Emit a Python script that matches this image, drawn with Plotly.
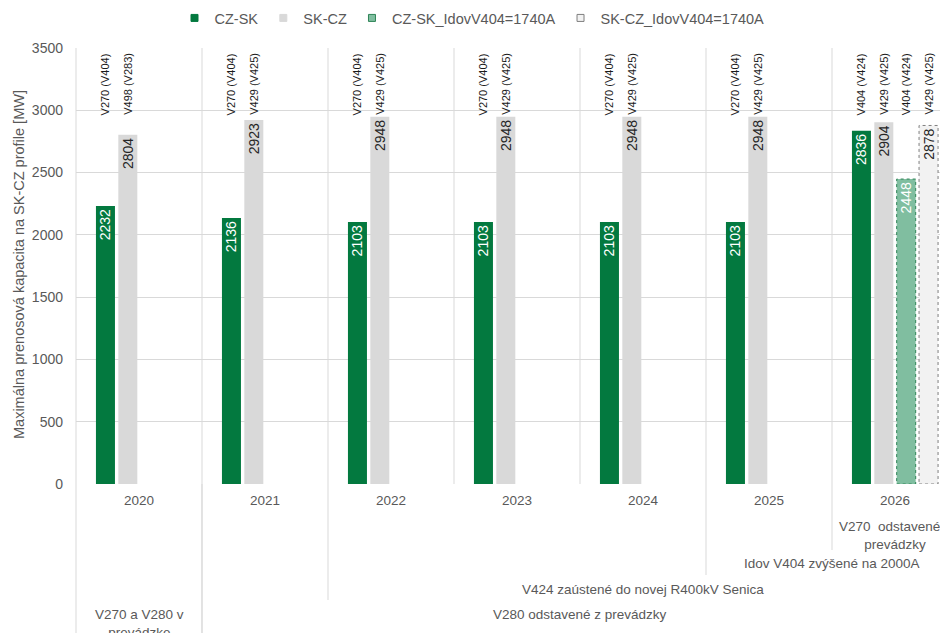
import plotly.graph_objects as go

# ---------------- data ----------------
years = ["2020", "2021", "2022", "2023", "2024", "2025", "2026"]
series_names = ["CZ-SK", "SK-CZ", "CZ-SK_IdovV404=1740A", "SK-CZ_IdovV404=1740A"]
cz_sk = [2232, 2136, 2103, 2103, 2103, 2103, 2836]
sk_cz = [2804, 2923, 2948, 2948, 2948, 2948, 2904]
cz_sk_idov = [None, None, None, None, None, None, 2448]
sk_cz_idov = [None, None, None, None, None, None, 2878]

line_labels_cz_sk = ["V270 (V404)"] * 6 + ["V404 (V424)"]
line_labels_sk_cz = ["V498 (V283)"] + ["V429 (V425)"] * 6
line_labels_cz_sk_idov = [None] * 6 + ["V404 (V424)"]
line_labels_sk_cz_idov = [None] * 6 + ["V429 (V425)"]

# multi-level category labels (text, first year index, last year index, level)
level_texts = ["V270  odstavené z<br>prevádzky", "Idov V404 zvýšené na 2000A",
               "V424 zaústené do novej R400kV Senica", "V280 odstavené z prevádzky",
               "V270 a V280 v<br>prevádzke"]
level_start = [6, 5, 2, 1, 0]
level_end = [6, 6, 6, 6, 0]
level_index = [1, 2, 3, 4, 4]

y_ticks = [0, 500, 1000, 1500, 2000, 2500, 3000, 3500]
y_title = "Maximálna prenosová kapacita na SK-CZ profile [MW]"

# ---------------- styling / layout ----------------
OFF = 8                      # page body margin of the html page
PAGE_W, PAGE_H = 948, 633
W, H = PAGE_W - OFF, PAGE_H - OFF
PLOT_LEFT, PLOT_TOP, PLOT_BOTTOM = 76, 48, 484   # page pixels
ML, MT = PLOT_LEFT - OFF, PLOT_TOP - OFF
MB = H - (PLOT_BOTTOM - OFF)
cat_px = 126.0
x_min = -0.5
x_max = x_min + (PAGE_W - PLOT_LEFT) / cat_px
plot_h = PLOT_BOTTOM - PLOT_TOP
plot_w = PAGE_W - PLOT_LEFT

bargap = 0.29
bargroupgap = 0.15
n_slots = 4
slot = (1 - bargap) / n_slots
bar_w = slot * (1 - bargroupgap)

colors = ["#03793F", "#D9D9D9", "#80BEA0", "#F2F2F2"]
text_colors = ["#FFFFFF", "#262626", "#FFFFFF", "#262626"]
border_colors = [None, None, "#2F8457", "#7F7F7F"]
grid = "#D9D9D9"
tick_col = "#595959"
FONT = "Liberation Sans, Arial, sans-serif"

# page-pixel rows of the category hierarchy (text tops and separator bottoms)
row_top_px = {1: 517, 2: 554, 3: 580, 4: 605}
row_bottom_px = {1: 550, 2: 575, 3: 600, 4: 645}


def py(px):
    return (PLOT_BOTTOM - px) / plot_h


def pxx(xv):
    return (xv - x_min) / (x_max - x_min)


values = [cz_sk, sk_cz, cz_sk_idov, sk_cz_idov]
labels = [line_labels_cz_sk, line_labels_sk_cz, line_labels_cz_sk_idov, line_labels_sk_cz_idov]
xs = list(range(len(years)))

fig = go.Figure()
for k in range(n_slots):
    fig.add_trace(go.Bar(
        x=xs, y=values[k], name=series_names[k],
        marker=dict(color=colors[k], line=dict(width=0)),
        text=[("" if v is None else str(v)) for v in values[k]],
        textposition="inside", insidetextanchor="end", textangle=-90,
        constraintext="none",
        textfont=dict(color=text_colors[k], size=14, family=FONT),
        showlegend=False, hoverinfo="skip",
    ))

# legend entries (small square symbols as in the reference)
for k in range(n_slots):
    fig.add_trace(go.Scatter(
        x=[None], y=[None], mode="markers", name=series_names[k],
        marker=dict(symbol="square", size=7, color=colors[k],
                    line=dict(width=1, color=border_colors[k] or colors[k])),
        showlegend=True, hoverinfo="skip",
    ))

shapes = []
annotations = []

# dotted outlines of the Idov bars
for k in range(n_slots):
    if border_colors[k] is None:
        continue
    for i, v in enumerate(values[k]):
        if v is None:
            continue
        cx = i + (k - (n_slots - 1) / 2) * slot
        shapes.append(dict(type="rect", xref="x", yref="y",
                           x0=cx - bar_w / 2, x1=cx + bar_w / 2, y0=0, y1=v,
                           line=dict(color=border_colors[k], width=1, dash="dot"),
                           fillcolor="rgba(0,0,0,0)", layer="above"))

# vertical category separators inside the plot
for b in range(len(years)):
    xb = b - 0.5
    if xb > x_max:
        continue
    shapes.append(dict(type="line", xref="paper", yref="paper",
                       x0=pxx(xb), x1=pxx(xb), y0=0, y1=1,
                       line=dict(color=grid, width=1), layer="below"))

# separators and labels of the category hierarchy below the axis
for t, s, e, lv in zip(level_texts, level_start, level_end, level_index):
    for xb in (s - 0.5, e + 0.5):
        if xb > x_max:
            continue
        shapes.append(dict(type="line", xref="paper", yref="paper",
                           x0=pxx(xb), x1=pxx(xb), y0=0, y1=py(row_bottom_px[lv]),
                           line=dict(color=grid, width=1)))
    annotations.append(dict(
        text=t, xref="x", yref="paper", x=(s + e) / 2,
        y=py(row_top_px[lv]), yanchor="top", xanchor="center",
        showarrow=False, font=dict(size=13.5, color=tick_col, family=FONT)))

# rotated line labels at the top of the plot
for k in range(n_slots):
    for i, lab in enumerate(labels[k]):
        if lab is None:
            continue
        cx = i + (k - (n_slots - 1) / 2) * slot
        annotations.append(dict(
            text=lab, xref="x", yref="paper", x=cx, y=1, yshift=-3,
            xanchor="center", yanchor="top", textangle=-90, showarrow=False,
            font=dict(size=11, color="#1A1A1A", family=FONT)))

# y-axis title
annotations.append(dict(
    text=y_title, xref="paper", yref="paper", x=(19 - PLOT_LEFT) / plot_w,
    y=py(265), xanchor="center", yanchor="middle", textangle=-90,
    showarrow=False, font=dict(size=14.5, color=tick_col, family=FONT)))

fig.update_layout(
    width=W, height=H,
    margin=dict(l=ML, r=0, t=MT, b=MB, pad=0, autoexpand=False),
    paper_bgcolor="white", plot_bgcolor="white",
    barmode="group", bargap=bargap, bargroupgap=bargroupgap,
    font=dict(family=FONT, color=tick_col),
    shapes=shapes, annotations=annotations,
    legend=dict(orientation="h", x=(472 - PLOT_LEFT) / plot_w, xanchor="center",
                y=py(18), yanchor="middle", font=dict(size=14.5, color=tick_col),
                itemwidth=30, tracegroupgap=0),
    showlegend=True,
)
fig.update_xaxes(range=[x_min, x_max], tickmode="array", tickvals=xs, ticktext=years,
                 showgrid=False, zeroline=False, showline=False, ticks="",
                 tickfont=dict(size=13.5, color=tick_col), ticklabelstandoff=6)
fig.update_yaxes(range=[0, 3500], tickmode="array", tickvals=y_ticks,
                 showgrid=True, gridcolor=grid, gridwidth=1, zeroline=False,
                 showline=False, ticks="", ticklabelstandoff=12,
                 tickfont=dict(size=14, color=tick_col))

fig.write_html("out.html")
